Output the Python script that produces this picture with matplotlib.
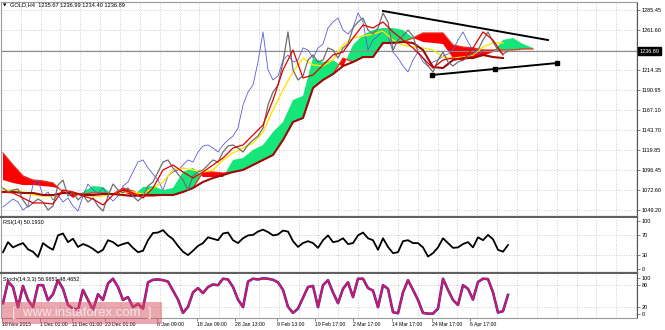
import numpy as np
import matplotlib
matplotlib.use("Agg")
import matplotlib.pyplot as plt
from matplotlib.patches import Rectangle

plt.rcParams['font.family'] = ['Liberation Sans', 'DejaVu Sans']

# H4 closes, one value per 5 px column
close = [1075.2, 1070.5, 1072.8, 1074.0, 1061.0, 1052.7, 1057.5, 1062.2, 1058.6, 1049.2,
         1053.9, 1078.7, 1084.6, 1065.7, 1070.5, 1061.0, 1066.9, 1058.6, 1063.4, 1053.9,
         1048.0, 1065.7, 1079.9, 1072.8, 1069.3, 1075.2, 1065.7, 1059.8, 1065.7, 1077.5,
         1082.3, 1094.1, 1105.9, 1108.3, 1098.8, 1091.7, 1084.6, 1072.8, 1089.4, 1094.1,
         1096.5, 1102.4, 1108.3, 1105.9, 1117.7, 1124.8, 1126.0, 1122.4, 1117.7, 1126.0,
         1131.9, 1136.6, 1146.1, 1173.2, 1188.6, 1196.9, 1224.0, 1259.5, 1214.6, 1202.8,
         1207.5, 1226.4, 1232.3, 1224.0, 1226.4, 1240.6, 1238.2, 1228.7, 1240.6, 1245.3,
         1264.2, 1271.3, 1276.0, 1261.8, 1257.1, 1264.2, 1281.9, 1271.3, 1238.2, 1250.0,
         1254.7, 1261.8, 1254.7, 1235.8, 1228.7, 1219.3, 1212.2, 1226.4, 1235.8, 1224.0,
         1219.3, 1224.0, 1226.4, 1231.1, 1233.5, 1238.2, 1250.0, 1259.5, 1247.7, 1238.2,
         1233.5, 1236.9]
chikou_shift = 5

# ichimoku style lines, one value per 10 px
tenkan = [1070.5, 1069.3, 1063.4, 1057.5, 1057.5, 1056.3, 1072.8, 1070.5, 1065.7, 1062.2,
          1055.1, 1066.9, 1072.8, 1069.3, 1063.4, 1075.2, 1096.5, 1102.4, 1094.1, 1087.0,
          1094.1, 1102.4, 1110.6, 1122.4, 1126.0, 1137.8, 1149.6, 1179.1, 1214.6, 1238.2,
          1205.1, 1208.7, 1220.5, 1232.3, 1235.8, 1252.4, 1267.7, 1264.2, 1271.3, 1259.5,
          1250.0, 1240.6, 1228.7, 1216.9, 1226.4, 1228.7, 1226.4, 1240.6, 1259.5, 1250.0,
          1232.3]
kijun = [1072.8, 1072.8, 1070.5, 1066.9, 1065.7, 1065.7, 1069.3, 1069.3, 1066.9, 1065.7,
         1065.7, 1068.1, 1070.5, 1070.5, 1068.1, 1075.2, 1082.3, 1096.5, 1098.8, 1096.5,
         1094.1, 1096.5, 1108.3, 1116.5, 1122.4, 1128.3, 1141.3, 1167.3, 1191.0, 1212.2,
         1228.7, 1220.5, 1219.3, 1226.4, 1244.1, 1252.4, 1254.7, 1257.1, 1260.6, 1250.0,
         1244.1, 1241.7, 1240.6, 1238.2, 1229.9, 1228.7, 1229.9, 1232.3, 1241.7, 1246.5,
         1246.5]
base_line = [1070.5, 1070.5, 1069.3, 1069.3, 1066.9, 1066.9, 1069.3, 1069.3, 1066.9, 1066.9,
             1068.1, 1068.1, 1066.9, 1065.7, 1066.9, 1066.9, 1066.9, 1066.9, 1070.5, 1075.2,
             1082.3, 1087.0, 1090.5, 1094.1, 1096.5, 1102.4, 1108.3, 1114.2, 1131.9, 1153.2,
             1157.9, 1193.3, 1202.8, 1209.8, 1219.3, 1224.0, 1229.9, 1229.9, 1246.5, 1246.5,
             1247.7, 1246.5, 1238.2, 1218.1, 1216.9, 1226.4, 1228.7, 1228.7, 1232.3, 1229.9,
             1228.7]
span_a = [1084.6, 1081.1, 1078.7, 1078.7, 1077.5, 1076.4, 1072.8, 1063.4, 1070.5, 1077.5,
          1076.4, 1066.9, 1070.5, 1065.7, 1076.4, 1077.5, 1072.8, 1075.2, 1094.1, 1098.8,
          1088.2, 1088.2, 1088.2, 1108.3, 1110.6, 1120.1, 1126.0, 1141.3, 1153.2, 1179.1,
          1183.9, 1228.7, 1224.0, 1226.4, 1218.1, 1244.1, 1255.9, 1261.8, 1264.2, 1264.2,
          1261.8, 1252.4, 1247.7, 1246.5, 1245.3, 1228.7, 1226.4, 1228.7, 1231.1, 1235.8,
          1250.0, 1252.4, 1245.3, 1240.6]
span_b = [1116.5, 1102.4, 1089.4, 1084.6, 1083.5, 1081.1, 1070.5, 1069.3, 1068.1, 1069.3,
          1069.3, 1068.1, 1075.2, 1071.6, 1065.7, 1065.7, 1066.9, 1066.9, 1070.5, 1075.2,
          1094.1, 1094.1, 1092.9, 1094.1, 1096.5, 1102.4, 1108.3, 1114.2, 1131.9, 1153.2,
          1157.9, 1193.3, 1202.8, 1209.8, 1228.7, 1224.0, 1229.9, 1229.9, 1246.5, 1246.5,
          1247.7, 1252.4, 1258.3, 1258.3, 1258.3, 1244.1, 1241.7, 1240.6, 1238.2, 1238.2,
          1238.2, 1238.2, 1239.4, 1239.4]

rsi = [35, 56, 45, 50, 54, 41, 36, 25, 54, 46, 40, 70, 74, 56, 63, 46, 52, 48, 42, 34,
       40, 60, 56, 48, 52, 55, 44, 35, 38, 60, 75, 76, 81, 70, 62, 48, 36, 29, 38, 48,
       54, 66, 63, 60, 74, 76, 60, 54, 64, 70, 71, 78, 82, 77, 70, 72, 80, 78, 58, 46,
       54, 58, 54, 44, 60, 70, 56, 58, 64, 52, 54, 70, 76, 64, 60, 40, 64, 46, 33, 35,
       58, 60, 54, 54, 45, 26, 33, 45, 64, 54, 44, 45, 52, 56, 45, 66, 60, 71, 62, 40,
       36, 50]
stoch = [30, 90, 75, 19, 78, 39, 19, 80, 80, 38, 55, 94, 70, 25, 15, 12, 67, 39, 11, 55,
         39, 85, 98, 75, 39, 47, 19, 28, 15, 88, 95, 96, 94, 90, 65, 40, 3, 20, 60, 72,
         58, 75, 82, 80, 98, 96, 75, 40, 19, 90, 98, 96, 99, 98, 95, 88, 67, 20, 3, 15,
         45, 75, 78, 19, 80, 94, 60, 30, 70, 88, 47, 98, 98, 72, 65, 19, 80, 70, 5, 2,
         60, 94, 67, 39, 3, 1, 1, 15, 98, 67, 39, 25, 80, 70, 40, 89, 98, 97, 60, 4,
         8, 53]

price_ticks = [1285.45, 1261.60, 1214.35, 1190.95, 1167.10, 1143.70, 1119.85, 1096.45, 1072.60, 1049.20]
last_price = 1236.89
date_pos = [-0.2, 7.4, 13.8, 20.4, 30.8, 38.8, 46.4, 54.8, 62.4, 70.0, 77.8, 85.8, 93.4]
date_labels = ['18 Nov 2015', '1 Dec 01:00', '11 Dec 01:00', '23 Dec 01:00', '6 Jan 09:00',
               '18 Jan 09:00', '28 Jan 13:00', '9 Feb 13:00', '19 Feb 17:00', '2 Mar 17:00',
               '14 Mar 17:00', '24 Mar 17:00', '6 Apr 17:00']

# triangle trend lines (bar index, price)
upper_x = [76.0, 109.0]
upper_y = [1284.3, 1250.0]
lower_x = [85.8, 98.4, 110.8]
lower_y = [1208.7, 1215.8, 1222.8]

W, H = 665, 330


def box(x0, y0, x1, y1):
    return [x0 / W, 1 - y1 / H, (x1 - x0) / W, (y1 - y0) / H]


fig = plt.figure(figsize=(6.65, 3.3), dpi=100)
ax = fig.add_axes(box(1, 2, 637, 217))
ax_rsi = fig.add_axes(box(1, 218, 637, 273))
ax_st = fig.add_axes(box(1, 274, 637, 318))

xmin, xmax = -0.4, 126.8
grid_x = np.arange(3.54, xmax, 3.97)
dot = dict(color='#bdbdbd', lw=0.6, ls=(0, (1, 2)), zorder=0)

for a in (ax, ax_rsi, ax_st):
    a.set_xlim(xmin, xmax)
    a.yaxis.tick_right()
    a.tick_params(axis='y', length=2, width=0.5, color='#555555', labelsize=4, pad=1.5)
    for gx in grid_x:
        a.axvline(gx, **dot)
    for s in a.spines.values():
        s.set_color('#9a9a9a')
        s.set_linewidth(0.8)
    a.spines['right'].set_color('#555555')

for a in (ax, ax_rsi):
    a.set_xticks([])
ax.spines['bottom'].set_color('#606060')
ax.spines['bottom'].set_linewidth(1.6)
ax_rsi.spines['bottom'].set_color('#606060')
ax_rsi.spines['bottom'].set_linewidth(1.6)
ax_rsi.spines['top'].set_visible(False)
ax_st.spines['top'].set_visible(False)

# ---- main panel
x5 = np.arange(len(close))
x10 = np.arange(len(tenkan)) * 2
xc = np.arange(len(span_a)) * 2
sa = np.array(span_a)
sb = np.array(span_b)

ax.set_ylim(1040.93, 1294.9)
ax.set_yticks(price_ticks)
ax.set_yticklabels(['%.2f' % v for v in price_ticks])
for v in price_ticks + [1237.98]:
    ax.axhline(v, **dot)

ax.fill_between(xc, sa, sb, where=sa >= sb, interpolate=True, color='#14e67a', lw=0, zorder=1)
ax.fill_between(xc, sa, sb, where=sa < sb, interpolate=True, color='#ff0000', lw=0, zorder=1)
ax.plot(xc, sb, color='#e8301c', lw=0.9, zorder=2)

ax.axhline(last_price, color='#8c8c8c', lw=0.8, zorder=1)

ax.plot(x5[:-chikou_shift], close[chikou_shift:], color='#5c5cd6', lw=0.6, zorder=3)
ax.plot(x10, kijun, color='#ffe600', lw=1.0, zorder=4)
ax.plot(x10, base_line, color='#9c0a0a', lw=1.5, zorder=5)
ax.plot(x5, close, color='#6e6e6e', lw=0.9, zorder=6)
ax.plot(x10, tenkan, color='#e00000', lw=0.9, zorder=7)

ax.plot(upper_x, upper_y, color='black', lw=1.4, zorder=8)
ax.plot(lower_x, lower_y, color='black', lw=1.4, zorder=8,
        marker='s', markersize=2.2)

ax.text(1.004, last_price, '%.2f' % last_price, transform=ax.get_yaxis_transform(),
        fontsize=4, color='white', va='center', ha='left',
        bbox=dict(boxstyle='square,pad=0.25', fc='black', ec='black'), clip_on=False)
ax.text(0.003, 0.986, '\u25bc', transform=ax.transAxes, fontsize=3.2,
        family='DejaVu Sans', va='center', ha='left')
ax.text(0.014, 0.986, 'GOLD,H4  1235.67 1236.99 1234.40 1236.89', transform=ax.transAxes,
        fontsize=4.1, va='center', ha='left')

# ---- RSI
ax_rsi.set_ylim(-8.33, 106.25)
ax_rsi.set_yticks([100, 70, 30, 0])
for v in (70, 30):
    ax_rsi.axhline(v, **dot)
ax_rsi.plot(x5, rsi, color='black', lw=1.3)
ax_rsi.text(0.003, 0.91, 'RSI(14) 50.1930', transform=ax_rsi.transAxes,
            fontsize=4, va='center', ha='left')

# ---- Stochastic
ax_st.set_ylim(-11.1, 111.1)
ax_st.set_yticks([100, 80, 20, 0])
for v in (80, 20):
    ax_st.axhline(v, **dot)
ax_st.plot(x5, stoch, color='#2a2aff', lw=1.9)
ax_st.plot(x5, stoch, color='#d81a46', lw=1.3)
ax_st.text(0.003, 0.885, 'Stoch(14,3,3) 56.9651 48.4652', transform=ax_st.transAxes,
           fontsize=4, va='center', ha='left')
ax_st.set_xticks(date_pos)
ax_st.set_xticklabels(date_labels, ha='left')
ax_st.tick_params(axis='x', length=2, width=0.5, color='#555555', labelsize=3.7, pad=1)

# watermark
fig.patches.append(Rectangle((2 / W, 1 - 324 / H), 160 / W, 22 / H, transform=fig.transFigure,
                             facecolor='#d9505e', alpha=0.5, lw=0, zorder=10))
fig.text(12 / W, 1 - 313 / H, '[  www.instaforex.com  ]', fontsize=9.5, color='#f4eaea',
         va='center', ha='left', zorder=11, alpha=0.9)

fig.savefig('out.png', dpi=100)
